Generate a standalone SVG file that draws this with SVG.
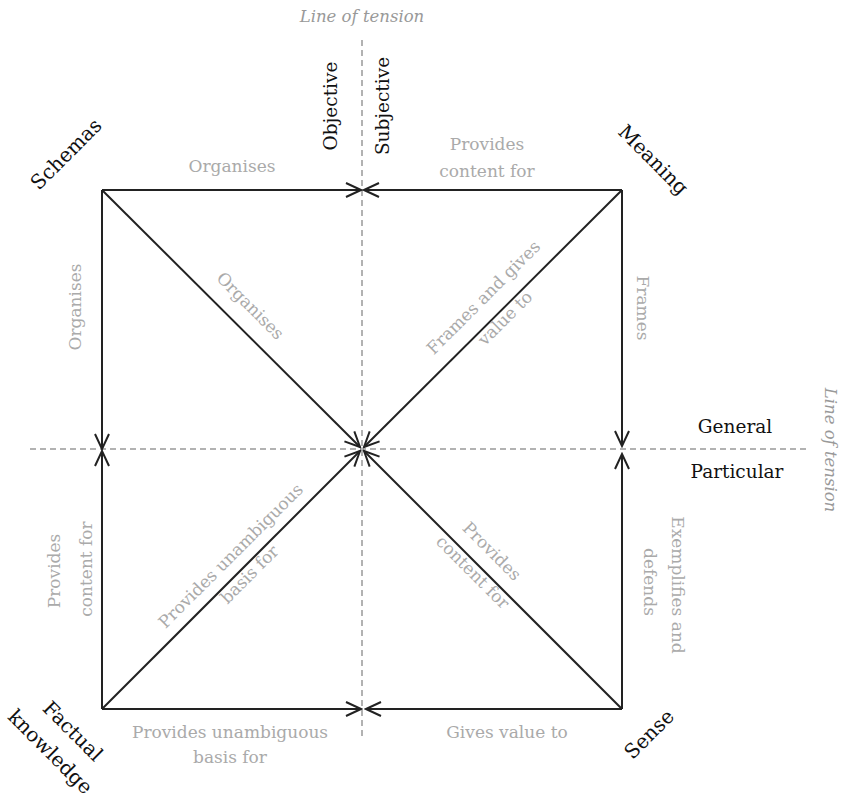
<svg xmlns="http://www.w3.org/2000/svg" width="843" height="800" viewBox="0 0 843 800">
<style>
.node{font-family:"DejaVu Serif","Liberation Serif",serif;font-size:20px;fill:#111;text-anchor:middle;}
.axis{font-family:"DejaVu Serif","Liberation Serif",serif;font-size:18.5px;fill:#111;text-anchor:middle;}
.lbl{font-family:"DejaVu Serif","Liberation Serif",serif;font-size:17px;fill:#aaa;text-anchor:middle;}
.tension{font-family:"DejaVu Serif","Liberation Serif",serif;font-size:16.5px;fill:#999;font-style:italic;text-anchor:middle;}
.edge{stroke:#222;stroke-width:2;fill:none;marker-end:url(#arr);}
.dash{stroke:#999;stroke-width:1.5;stroke-dasharray:6 4;fill:none;}
</style>
<defs>
<marker id="arr" viewBox="-17 -9 19 18" refX="0" refY="0" markerWidth="19" markerHeight="18" markerUnits="userSpaceOnUse" orient="auto">
<path d="M-15,-7 L0,0 L-15,7" fill="none" stroke="#222" stroke-width="2"/>
</marker>
</defs>
<rect width="843" height="800" fill="#fff"/>
<g id="tension-lines">
<line class="dash" x1="362" y1="40" x2="362" y2="740"/>
<line class="dash" x1="30" y1="449" x2="808" y2="449"/>
<text class="tension" x="362" y="22">Line of tension</text>
<text class="tension" transform="translate(831,450) rotate(90)" y="6">Line of tension</text>
</g>
<g id="axis-objective"><text class="axis" transform="translate(337,106) rotate(-90)">Objective</text></g>
<g id="axis-subjective"><text class="axis" transform="translate(389,106) rotate(-90)">Subjective</text></g>
<g id="axis-general"><text class="axis" x="735" y="433">General</text></g>
<g id="axis-particular"><text class="axis" x="737" y="478">Particular</text></g>
<g id="node-schemas"><text class="node" transform="translate(66,154) rotate(-45)" y="7">Schemas</text></g>
<g id="node-meaning"><text class="node" transform="translate(652,161) rotate(45)" y="5">Meaning</text></g>
<g id="node-factual-knowledge">
<text class="node" transform="translate(73,731) rotate(45)" y="7">Factual</text>
<text class="node" transform="translate(49,753) rotate(45)" y="5">knowledge</text>
</g>
<g id="node-sense"><text class="node" transform="translate(649,734) rotate(-45)" y="7">Sense</text></g>
<g id="connectors">
<line class="edge" x1="102" y1="190" x2="361" y2="190"/>
<line class="edge" x1="622" y1="190" x2="364" y2="190"/>
<line class="edge" x1="102" y1="709" x2="361" y2="709"/>
<line class="edge" x1="622" y1="709" x2="366" y2="709"/>
<line class="edge" x1="102" y1="190" x2="102" y2="449"/>
<line class="edge" x1="102" y1="709" x2="102" y2="451"/>
<line class="edge" x1="622" y1="190" x2="622" y2="446"/>
<line class="edge" x1="622" y1="709" x2="622" y2="454"/>
<line class="edge" x1="102" y1="190" x2="360" y2="447"/>
<line class="edge" x1="622" y1="190" x2="364" y2="447"/>
<line class="edge" x1="102" y1="709" x2="360" y2="451"/>
<line class="edge" x1="622" y1="709" x2="364" y2="451"/>
<text class="lbl" x="232" y="172">Organises</text>
<text class="lbl" x="487" y="150">Provides</text>
<text class="lbl" x="487" y="177">content for</text>
<text class="lbl" transform="translate(76,307) rotate(-90)" y="5">Organises</text>
<text class="lbl" transform="translate(249,307) rotate(45)" y="4">Organises</text>
<text class="lbl" transform="translate(484,298) rotate(-45)" y="5">Frames and gives</text>
<text class="lbl" transform="translate(505,318) rotate(-45)" y="6">value to</text>
<text class="lbl" transform="translate(643,308) rotate(90)" y="6">Frames</text>
<text class="lbl" transform="translate(55,571) rotate(-90)" y="5">Provides</text>
<text class="lbl" transform="translate(86,569) rotate(-90)" y="6">content for</text>
<text class="lbl" transform="translate(232,557) rotate(-45)" y="4">Provides unambiguous</text>
<text class="lbl" transform="translate(250,575) rotate(-45)" y="5">basis for</text>
<text class="lbl" transform="translate(492,551) rotate(45)" y="6">Provides</text>
<text class="lbl" transform="translate(473,572) rotate(45)" y="6">content for</text>
<text class="lbl" transform="translate(677,585) rotate(90)" y="5">Exemplifies and</text>
<text class="lbl" transform="translate(650,582) rotate(90)" y="6">defends</text>
<text class="lbl" x="230" y="738">Provides unambiguous</text>
<text class="lbl" x="230" y="763">basis for</text>
<text class="lbl" x="507" y="738">Gives value to</text>
</g>
</svg>
